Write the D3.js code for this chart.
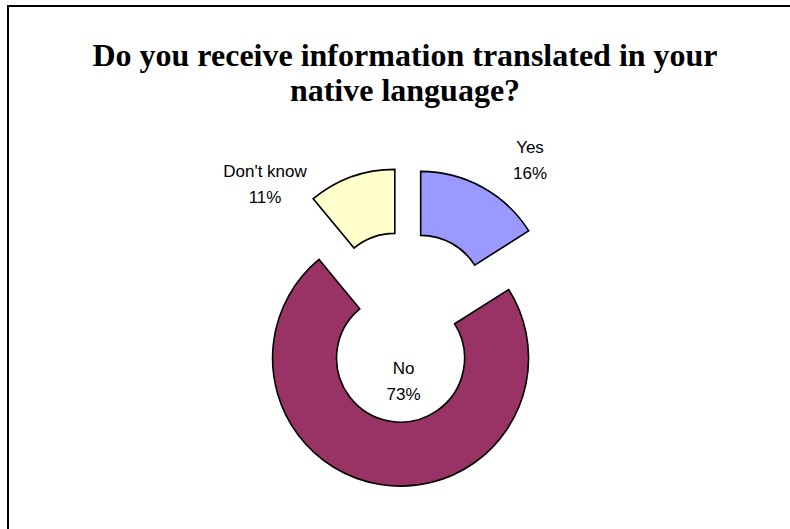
<!DOCTYPE html>
<html>
<head>
<meta charset="utf-8">
<script src="https://cdn.jsdelivr.net/npm/d3@7"></script>
<style>
  html, body { margin: 0; padding: 0; background: #fff; }
  svg { display: block; }
</style>
</head>
<body>
<svg id="chart" width="790" height="529"></svg>
<script>
// Survey answers and their shares (percent)
const categories = ["Yes", "No", "Don't know"];
const shares = [16, 73, 11];
const sliceColors = ["#9999FF", "#993366", "#FFFFCC"];
const titleLines = ["Do you receive information translated in your", "native language?"];

const svg = d3.select("#chart");

// Frame around the chart area (right and bottom edges fall outside the window)
svg.append("rect")
  .attr("x", 8).attr("y", 6)
  .attr("width", 820).attr("height", 560)
  .attr("fill", "#fff")
  .attr("stroke", "#000")
  .attr("stroke-width", 2);

// Title
svg.append("g").selectAll("text")
  .data(titleLines)
  .join("text")
  .attr("x", 405)
  .attr("y", (d, i) => 66 + i * 35)
  .attr("text-anchor", "middle")
  .attr("font-family", "'Liberation Serif', 'Times New Roman', serif")
  .attr("font-weight", "bold")
  .attr("font-size", 32)
  .attr("fill", "#000")
  .text(d => d);

// Doughnut with every slice pulled out from the centre
const cx = 405.5, cy = 327;
const outerR = 128, innerR = 64, explode = 31.5;

const data = categories.map((c, i) => ({ name: c, value: shares[i], color: sliceColors[i] }));
const pie = d3.pie().value(d => d.value).sort(null);
const arcs = pie(data);
const arc = d3.arc().innerRadius(innerR).outerRadius(outerR);

const g = svg.append("g").attr("transform", `translate(${cx},${cy})`);

function offsetOf(a) {
  const mid = (a.startAngle + a.endAngle) / 2;
  return [explode * Math.sin(mid), -explode * Math.cos(mid)];
}

g.selectAll("path")
  .data(arcs)
  .join("path")
  .attr("d", arc)
  .attr("transform", a => { const [dx, dy] = offsetOf(a); return `translate(${dx},${dy})`; })
  .attr("fill", a => a.data.color)
  .attr("stroke", "#000")
  .attr("stroke-width", 1.6)
  .attr("stroke-linejoin", "miter");

// Data labels: category name above its percentage
const pct = d3.format(".0%");
const labelShift = {
  "Yes": [124.5, -174],
  "No": [-2, 47],
  "Don't know": [-140.5, -150]
};
const labels = g.selectAll("g.lbl")
  .data(arcs)
  .join("g")
  .attr("class", "lbl")
  .attr("transform", a => { const s = labelShift[a.data.name]; return `translate(${s[0]},${s[1]})`; });

labels.selectAll("text")
  .data(a => [a.data.name, pct(a.data.value / d3.sum(shares))])
  .join("text")
  .attr("x", 0)
  .attr("y", (d, i) => i * 26)
  .attr("text-anchor", "middle")
  .attr("font-family", "Arial, 'Liberation Sans', sans-serif")
  .attr("font-size", 17)
  .attr("fill", "#000")
  .text(d => d);
</script>
</body>
</html>
